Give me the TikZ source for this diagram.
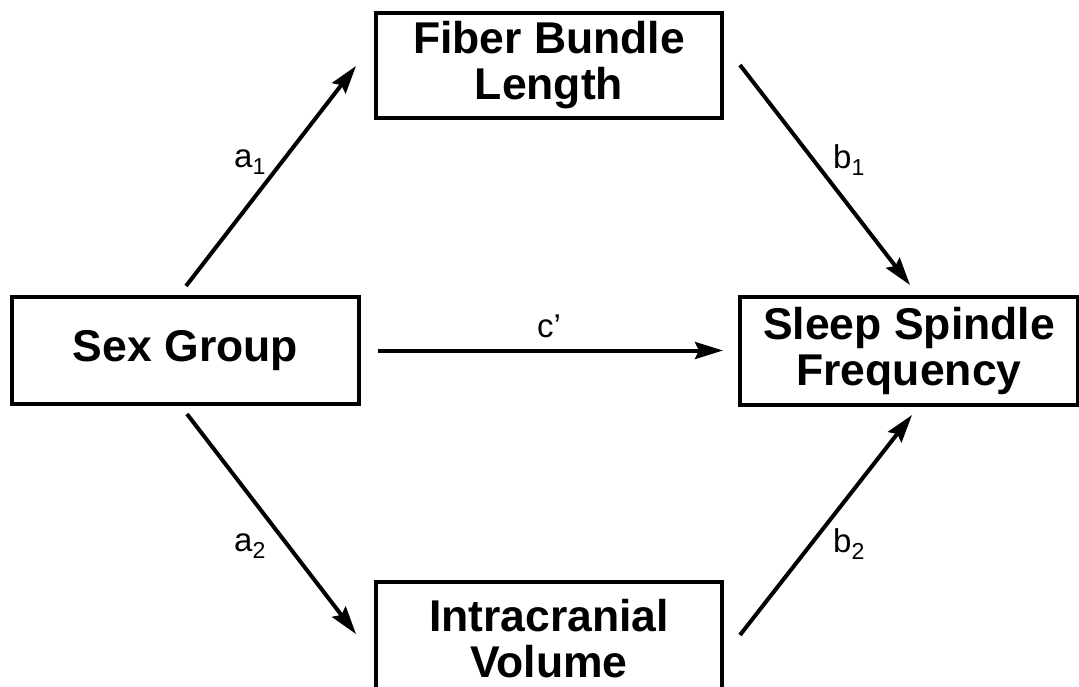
\documentclass[tikz,border=0pt]{standalone}
\usepackage{fontspec}
\setmainfont{Liberation Sans}
\usetikzlibrary{arrows.meta,calc}
\begin{document}
\begin{tikzpicture}[x=1pt,y=-1pt,
  box/.style={draw, line width=4pt, rectangle, inner sep=0pt, align=center,
    font=\fontsize{44.5}{46}\selectfont\bfseries},
  arr/.style={line width=4pt, -{Stealth[length=28pt,width=17pt,inset=4pt]}},
  lab/.style={font=\fontsize{33}{33}\selectfont, inner sep=0pt}]
\useasboundingbox (0,0) rectangle (1079,686);
\node[box, minimum width=346pt, minimum height=105pt] (fiber) at (549,65) {Fiber Bundle\\Length};
\node[box, minimum width=347pt, minimum height=107pt] (sex) at (185.5,350.5) {Sex Group};
\node[box, minimum width=338pt, minimum height=108pt] (sleep) at (909,351) {Sleep Spindle\\Frequency};
\node[box, minimum width=346pt, minimum height=114pt] (icv) at (549,639) {Intracranial\\Volume};
% connectors
\draw[arr] ($(sex.north)+(0.5,-9)$) -- ($(fiber.west)+(-18,1)$);
\draw[arr] ($(sex.south)+(1.5,8)$) -- ($(icv.west)+(-18,-5)$);
\draw[arr] ($(fiber.east)+(16,0)$) -- ($(sleep.north)+(1,-10)$);
\draw[arr] ($(icv.east)+(16,-4)$) -- ($(sleep.south)+(3,8)$);
\draw[arr, shorten <=17pt, shorten >=15pt] (sex.east) -- (sleep.west |- sex.east);
% labels
\node[lab] (la1) at (250,162) {a\textsubscript{1}};
\node[lab] (la2) at (250,546) {a\textsubscript{2}};
\node[lab] (lb1) at (849,160) {b\textsubscript{1}};
\node[lab] (lb2) at (849,544) {b\textsubscript{2}};
\node[lab] (lc) at (549,326) {c’};
\end{tikzpicture}
\end{document}
